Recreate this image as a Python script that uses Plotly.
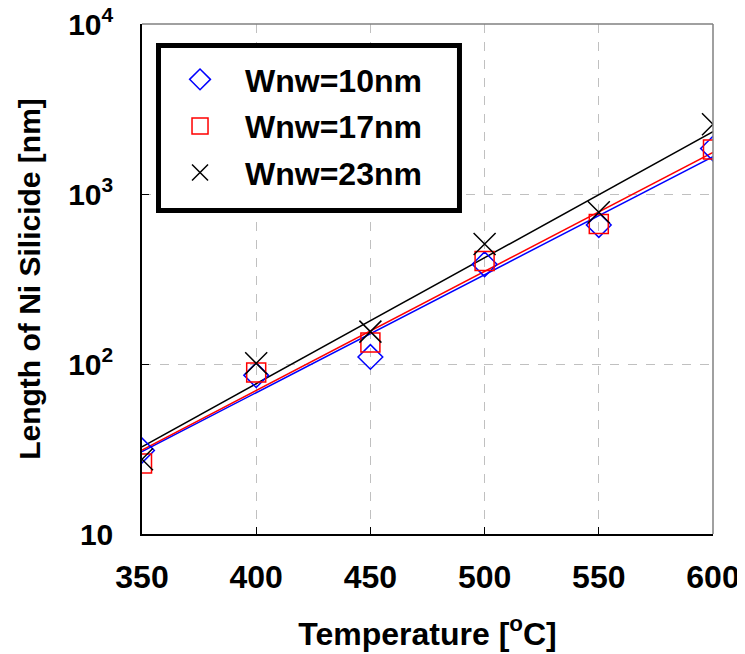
import plotly.graph_objects as go

temps = [350, 400, 450, 500, 550, 600]
wnw10 = [31, 86, 110, 386, 657, 1850]
wnw17 = [26, 89, 134, 403, 666, 1830]
wnw23 = [27.5, 101, 155, 508, 780, 2570]

fit_x = [350, 600]
fit10 = [30.5, 1658]
fit17 = [31.2, 1758]
fit23 = [32.6, 2326]

names = ["Wnw=10nm", "Wnw=17nm", "Wnw=23nm"]
colors = ["#0000FF", "#FF0000", "#000000"]
symbols = ["diamond-open", "square-open", "x-thin-open"]
sizes = [19, 19, 22]

ytick_vals = [10, 100, 1000, 10000]
ytick_text = ["10", "10<sup>2</sup>", "10<sup>3</sup>", "10<sup>4</sup>"]
xtick_vals = [350, 400, 450, 500, 550, 600]

FONT = "Arial, Liberation Sans, sans-serif"

fig = go.Figure()
for fy, c in zip([fit10, fit17, fit23], colors):
    fig.add_trace(go.Scatter(x=fit_x, y=fy, mode="lines",
                             line=dict(color=c, width=1.5),
                             showlegend=False, hoverinfo="skip"))
for i, ys in enumerate([wnw10, wnw17, wnw23]):
    fig.add_trace(go.Scatter(x=temps, y=ys, mode="markers", name=names[i],
                             legendgroup=names[i],
                             marker=dict(symbol=symbols[i], size=sizes[i],
                                         color=colors[i],
                                         line=dict(color=colors[i], width=1.5))))

fig.update_layout(
    width=737, height=646,
    margin=dict(l=134, r=32, t=16, b=120, autoexpand=False),
    paper_bgcolor="white", plot_bgcolor="white",
    font=dict(family=FONT, color="black"),
    legend=dict(x=0.0228, y=0.945, xanchor="left", yanchor="top",
                bgcolor="rgba(0,0,0,0)", borderwidth=0,
                font=dict(size=32, family=FONT, weight="bold"),
                itemwidth=80, tracegroupgap=2, traceorder="grouped"),
    xaxis=dict(range=[350, 600], tickvals=xtick_vals, automargin=False,
               ticks="inside", ticklen=7, tickcolor="black",
               showline=True, linecolor="black", linewidth=1.5,
               showgrid=True, gridcolor="#c0c0c0", griddash="dash", gridwidth=1,
               zeroline=False, ticklabelstandoff=14, ticklabeloverflow="allow",
               tickfont=dict(size=32, weight="bold"),
               title=dict(text="Temperature [<sup>o</sup>C]",
                          font=dict(size=32, weight="bold"), standoff=28)),
    yaxis=dict(type="log", range=[1, 4], tickvals=ytick_vals, ticktext=ytick_text,
               automargin=False,
               ticks="inside", ticklen=7, tickcolor="black",
               showline=True, linecolor="black", linewidth=1.5,
               showgrid=True, gridcolor="#c0c0c0", griddash="dash", gridwidth=1,
               zeroline=False, ticklabelstandoff=21, ticklabeloverflow="allow",
               tickfont=dict(size=30, weight="bold"),
               title=dict(text="Length of Ni Silicide [nm]",
                          font=dict(size=30, weight="bold"), standoff=19)),
    shapes=[
        dict(type="line", xref="paper", yref="paper", x0=0, x1=1, y0=1, y1=1,
             line=dict(color="#808080", width=1.5)),
        dict(type="line", xref="paper", yref="paper", x0=1, x1=1, y0=0, y1=1,
             line=dict(color="#808080", width=1.5)),
        dict(type="rect", xref="paper", yref="paper", layer="above",
             x0=0.0289, x1=0.556, y0=0.6343, y1=0.9578,
             fillcolor="white", line=dict(color="black", width=5)),
    ],
)

fig.write_html("out.html")
